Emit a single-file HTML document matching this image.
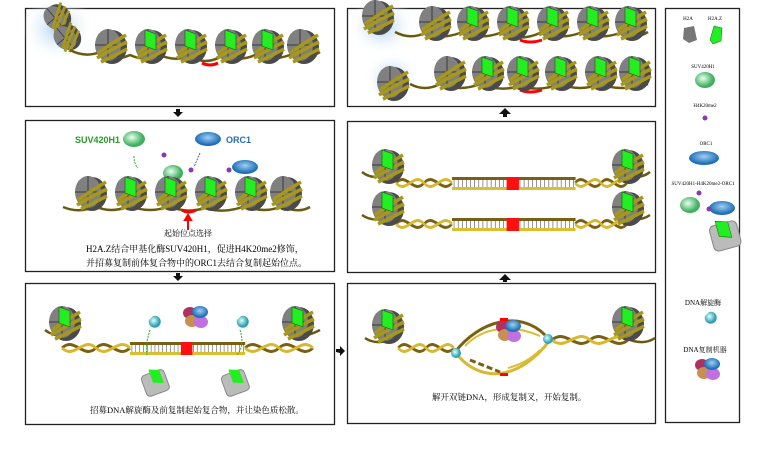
<!DOCTYPE html>
<html><head><meta charset="utf-8"><style>
html,body{margin:0;padding:0;background:#fff;}
svg{display:block;font-family:"Liberation Serif","Noto Serif CJK SC",serif;}
</style></head><body>
<svg width="779" height="470" viewBox="0 0 779 470" xmlns="http://www.w3.org/2000/svg">
<defs>
<radialGradient id="gG" cx="40%" cy="40%"><stop offset="0" stop-color="#eafff0"/><stop offset="1" stop-color="#3fb060"/></radialGradient>
<radialGradient id="gB" cx="50%" cy="40%"><stop offset="0" stop-color="#9fd0f0"/><stop offset="1" stop-color="#1e6fb8"/></radialGradient>
<radialGradient id="gC" cx="40%" cy="40%"><stop offset="0" stop-color="#e0ffff"/><stop offset="1" stop-color="#2aa0b0"/></radialGradient>
<radialGradient id="gHalo" cx="50%" cy="50%"><stop offset="0" stop-color="#a8cfee"/><stop offset="1" stop-color="#ffffff" stop-opacity="0"/></radialGradient>
<g id="nuc">
  <ellipse cx="4" cy="2" rx="15" ry="17" fill="#4a4a4a"/>
  <ellipse cx="0" cy="0" rx="13" ry="16" fill="#808080"/>
  <path d="M-13,0 L13,0 M0,-16 L0,16" stroke="#3a3a3a" stroke-width="1"/>
  <path d="M-10,8 Q4,-2 18,-10 M-11,13 Q4,4 19,-3 M-7,17 Q6,11 19,4" stroke="#a89818" stroke-width="3.5" fill="none"/>
</g>
<g id="nucz">
  <use href="#nuc"/>
  <path d="M-3,-15 L8,-11 L8,5 L-3,1 Z" fill="#22ee22" stroke="#106010" stroke-width="0.6"/>
</g>
<g id="rep">
  <ellipse cx="-5" cy="-3" rx="7" ry="6" fill="#b03060"/>
  <ellipse cx="-3" cy="5" rx="7" ry="6" fill="#c89050"/>
  <ellipse cx="6" cy="6" rx="7" ry="6" fill="#c070e0"/>
  <ellipse cx="5" cy="-4" rx="8" ry="6" fill="url(#gB)"/>
</g>
<g id="helix">
  <path d="M0,0 C15,-12 25,12 40,0 C55,-12 65,12 80,0" stroke="#7a6010" stroke-width="3" fill="none"/>
  <path d="M0,0 C15,12 25,-12 40,0 C55,12 65,-12 80,0" stroke="#d8b830" stroke-width="3" fill="none"/>
</g>
<g id="ladder">
  <rect x="0" y="-6" width="120" height="3" fill="#7a6010"/>
  <rect x="0" y="4" width="120" height="3" fill="#d8c030"/>
  <path d="M2,-4 V4 M6,-4 V4 M10,-4 V4 M14,-4 V4 M18,-4 V4 M22,-4 V4 M26,-4 V4 M30,-4 V4 M34,-4 V4 M38,-4 V4 M42,-4 V4 M46,-4 V4 M50,-4 V4 M66,-4 V4 M70,-4 V4 M74,-4 V4 M78,-4 V4 M82,-4 V4 M86,-4 V4 M90,-4 V4 M94,-4 V4 M98,-4 V4 M102,-4 V4 M106,-4 V4 M110,-4 V4 M114,-4 V4 M118,-4 V4" stroke="#555" stroke-width="0.6"/>
  <rect x="53" y="-6" width="12" height="13" fill="#ff1010"/>
</g>
</defs>
<g fill="none" stroke="#222" stroke-width="1.3">
<rect x="25.5" y="8.5" width="309" height="98"/>
<rect x="25.5" y="120.5" width="309" height="151"/>
<rect x="25.5" y="283.5" width="309" height="141"/>
<rect x="347.5" y="8.5" width="308" height="98"/>
<rect x="347.5" y="121.5" width="308" height="151"/>
<rect x="347.5" y="283.5" width="308" height="140"/>
<rect x="665.5" y="8.5" width="74" height="414"/>
</g>
<g fill="#111">
<path d="M176,109 h4 v3 h3 l-5,5 l-5,-5 h3z"/>
<path d="M176,273 h4 v3 h3 l-5,5 l-5,-5 h3z"/>
<path d="M499,114 l6,-6 l6,6z M503,114 h4 v3 h-4z"/>
<path d="M499,280 l6,-6 l6,6z M503,280 h4 v2 h-4z"/>
<path d="M336,352 v-3 h4 v-3 l5,5 l-5,5 v-3z"/>
</g>
<!-- Panel 1 -->
<ellipse cx="58" cy="28" rx="36" ry="34" fill="url(#gHalo)"/>
<g transform="translate(55,18) rotate(-40)"><use href="#nuc" transform="scale(0.8)"/></g>
<g transform="translate(65,38) rotate(-40)"><use href="#nuc" transform="scale(0.8)"/></g>
<path d="M70,50 Q85,58 100,52 Q115,62 130,55 Q145,62 160,55 Q175,62 190,56 Q205,66 222,56 Q240,62 255,55 Q270,62 290,55 Q305,62 320,52" stroke="#6a5a10" stroke-width="2.5" fill="none"/>
<path d="M202,63 Q210,67 218,63" stroke="#f00" stroke-width="3" fill="none"/>
<use href="#nuc" x="108" y="45"/><use href="#nucz" x="148" y="45"/><use href="#nucz" x="188" y="45"/><use href="#nucz" x="228" y="45"/><use href="#nucz" x="265" y="45"/><use href="#nuc" x="300" y="45"/>
<!-- Panel 2 -->
<text x="75" y="143" font-family="Liberation Sans,sans-serif" font-weight="bold" font-size="9" fill="#2a9a2a">SUV420H1</text>
<ellipse cx="134" cy="139" rx="11" ry="8" fill="url(#gG)"/>
<ellipse cx="208" cy="139" rx="13" ry="7" fill="url(#gB)"/>
<text x="226" y="143" font-family="Liberation Sans,sans-serif" font-weight="bold" font-size="9" fill="#2a6ab0">ORC1</text>
<path d="M134,156 q0,8 4,12" stroke="#3a3" stroke-width="1" fill="none" stroke-dasharray="2,1"/>
<path d="M200,153 l-6,14" stroke="#36a" stroke-width="1" fill="none" stroke-dasharray="2,1"/>
<ellipse cx="173" cy="173" rx="10" ry="8" fill="url(#gG)"/>
<ellipse cx="245" cy="167" rx="13" ry="7" fill="url(#gB)"/>
<circle cx="164" cy="155" r="2.5" fill="#8a3ab0"/><circle cx="191" cy="170" r="2.5" fill="#8a3ab0"/><circle cx="229" cy="170" r="2.5" fill="#8a3ab0"/>
<path d="M63,207 Q80,214 95,206 Q110,214 130,206 Q150,214 170,206 Q185,214 205,208 Q225,214 245,206 Q265,214 282,206 Q298,214 310,207" stroke="#6a5a10" stroke-width="2.5" fill="none"/>
<path d="M182,210 Q188,214 196,210" stroke="#f00" stroke-width="3" fill="none"/>
<use href="#nuc" x="88" y="192"/><use href="#nucz" x="128" y="192"/><use href="#nucz" x="168" y="192"/><use href="#nucz" x="208" y="192"/><use href="#nucz" x="248" y="192"/><use href="#nuc" x="283" y="192"/>
<path d="M188,230 v-10 h-3 l3,-5 l3,5 h-3" stroke="#f00" stroke-width="2" fill="#f00"/>
<text x="188" y="236" text-anchor="middle" font-size="8">起始位点选择</text>
<text x="86" y="252" font-size="9">H2A.Z结合甲基化酶SUV420H1，促进H4K20me2修饰，</text>
<text x="86" y="266" font-size="9">并招募复制前体复合物中的ORC1去结合复制起始位点。</text>
<!-- Panel 3 -->
<path d="M45,330 Q55,338 70,335" stroke="#6a5a10" stroke-width="2.5" fill="none"/>
<path d="M295,335 Q305,338 320,330" stroke="#6a5a10" stroke-width="2.5" fill="none"/>
<g transform="translate(62,348) scale(0.85,1)"><use href="#helix"/></g>
<g transform="translate(245,348) scale(0.85,1)"><use href="#helix"/></g>
<g transform="translate(130,348) scale(0.96,1)"><use href="#ladder"/></g>
<use href="#nucz" x="62" y="322"/><use href="#nucz" x="295" y="322"/>
<use href="#rep" x="195" y="316"/>
<path d="M149,320 a6,6 0 1,0 4,-4" fill="url(#gC)"/><path d="M237,320 a6,6 0 1,0 4,-4" fill="url(#gC)"/>
<g transform="translate(155,382) rotate(-20)"><rect x="-12" y="-10" width="24" height="22" rx="4" fill="#bbb" stroke="#888"/><path d="M-2,-14 L8,-10 L8,4 L-2,0 Z" fill="#22ee22"/></g>
<g transform="translate(235,382) rotate(-20)"><rect x="-12" y="-10" width="24" height="22" rx="4" fill="#bbb" stroke="#888"/><path d="M-2,-14 L8,-10 L8,4 L-2,0 Z" fill="#22ee22"/></g>
<path d="M150,330 q-5,15 -3,25" stroke="#3a3" fill="none" stroke-dasharray="2,1"/>
<path d="M240,330 q5,15 -3,25" stroke="#3a3" fill="none" stroke-dasharray="2,1"/>
<text x="90" y="413" font-size="8.5">招募DNA解旋酶及前复制起始复合物，并让染色质松散。</text>
<!-- Right top -->
<ellipse cx="382" cy="26" rx="34" ry="30" fill="url(#gHalo)"/>
<ellipse cx="392" cy="78" rx="28" ry="27" fill="url(#gHalo)"/>
<use href="#nuc" x="375" y="16"/><use href="#nuc" x="390" y="82"/>
<path d="M395,32 Q410,40 425,33 Q440,40 460,33 Q480,40 500,33 Q520,42 540,33 Q560,40 580,33 Q600,40 620,33 Q635,40 648,32" stroke="#6a5a10" stroke-width="2.5" fill="none"/>
<path d="M410,84 Q425,92 440,84 Q460,92 480,84 Q500,92 520,86 Q540,92 560,84 Q580,92 600,84 Q620,92 648,84" stroke="#6a5a10" stroke-width="2.5" fill="none"/>
<path d="M520,40 Q530,44 542,40" stroke="#f00" stroke-width="3" fill="none"/>
<path d="M520,90 Q530,94 542,90" stroke="#f00" stroke-width="3" fill="none"/>
<use href="#nuc" x="432" y="22"/><use href="#nucz" x="470" y="22"/><use href="#nucz" x="510" y="22"/><use href="#nucz" x="550" y="22"/><use href="#nucz" x="590" y="22"/><use href="#nucz" x="628" y="22"/>
<use href="#nuc" x="447" y="72"/><use href="#nucz" x="485" y="72"/><use href="#nucz" x="520" y="72"/><use href="#nucz" x="558" y="72"/><use href="#nucz" x="598" y="72"/><use href="#nucz" x="632" y="72"/>
<!-- Right middle -->
<path d="M362,172 Q372,180 385,175" stroke="#6a5a10" stroke-width="2.5" fill="none"/>
<path d="M362,215 Q372,222 385,218" stroke="#6a5a10" stroke-width="2.5" fill="none"/>
<path d="M625,175 Q640,180 650,172" stroke="#6a5a10" stroke-width="2.5" fill="none"/>
<path d="M625,218 Q640,222 650,215" stroke="#6a5a10" stroke-width="2.5" fill="none"/>
<g transform="translate(396,183) scale(0.7,1)"><use href="#helix"/></g>
<g transform="translate(396,224) scale(0.7,1)"><use href="#helix"/></g>
<g transform="translate(575,183) scale(0.65,1)"><use href="#helix"/></g>
<g transform="translate(575,224) scale(0.65,1)"><use href="#helix"/></g>
<g transform="translate(452,183) scale(1.03,1)"><use href="#ladder"/></g>
<g transform="translate(452,224) scale(1.03,1)"><use href="#ladder"/></g>
<use href="#nucz" x="385" y="165"/><use href="#nucz" x="625" y="165"/>
<use href="#nucz" x="385" y="207"/><use href="#nucz" x="625" y="207"/>
<!-- Right bottom -->
<path d="M365,338 Q375,345 390,340" stroke="#6a5a10" stroke-width="2.5" fill="none"/>
<path d="M630,340 Q645,345 655,338" stroke="#6a5a10" stroke-width="2.5" fill="none"/>
<g transform="translate(398,348) scale(0.7,1)"><use href="#helix"/></g>
<path d="M455,352 C480,320 520,310 545,335" stroke="#7a6010" stroke-width="3" fill="none"/>
<path d="M455,352 C480,385 520,380 550,340" stroke="#d8b830" stroke-width="3" fill="none"/>
<path d="M465,346 C485,325 515,325 540,336" stroke="#d8c030" stroke-width="2" fill="none"/>
<path d="M470,360 L500,372" stroke="#7a6010" stroke-width="3" fill="none" stroke-dasharray="6,3"/>
<path d="M508,368 C520,365 530,360 540,350" stroke="#d8c030" stroke-width="2" fill="none"/>
<g transform="translate(552,340) scale(0.95,1)"><use href="#helix"/></g>
<rect x="500" y="318" width="8" height="3" fill="#f00"/><rect x="500" y="373" width="8" height="3" fill="#f00"/>
<use href="#rep" x="508" y="330"/>
<circle cx="456" cy="353" r="5" fill="url(#gC)"/><circle cx="548" cy="339" r="5" fill="url(#gC)"/>
<use href="#nucz" x="385" y="325"/><use href="#nucz" x="625" y="322"/>
<text x="432" y="400" font-size="8.5">解开双链DNA，形成复制叉，开始复制。</text>
<!-- Legend -->
<g font-size="5">
<text x="688" y="20" text-anchor="middle">H2A</text><text x="715" y="20" text-anchor="middle">H2A.Z</text>
<text x="703" y="68" text-anchor="middle">SUV420H1</text>
<text x="705" y="107" text-anchor="middle">H4K20me2</text>
<text x="706" y="145" text-anchor="middle">ORC1</text>
<text x="703" y="185" text-anchor="middle">SUV420H1-H4K20me2-ORC1</text>
</g>
<path d="M684,28 l10,-2 l3,14 l-8,3 l-6,-4z" fill="#777"/>
<path d="M714,26 l8,2 l-1,13 l-8,3 l-3,-4z" fill="#22ee22" stroke="#106010" stroke-width="0.5"/>
<ellipse cx="705" cy="80" rx="10" ry="8" fill="url(#gG)"/>
<circle cx="705" cy="118" r="2.5" fill="#8a3ab0"/>
<ellipse cx="704" cy="158" rx="15" ry="7" fill="url(#gB)"/>
<circle cx="699" cy="193" r="2.5" fill="#8a3ab0"/>
<ellipse cx="690" cy="205" rx="10" ry="8" fill="url(#gG)"/>
<ellipse cx="722" cy="208" rx="13" ry="7" fill="url(#gB)"/>
<circle cx="709" cy="209" r="2.5" fill="#8a3ab0"/>
<g transform="translate(725,235) rotate(-15)"><rect x="-14" y="-12" width="28" height="26" rx="5" fill="#bbb" stroke="#888"/><path d="M-6,-16 L6,-12 L6,4 L-6,0 Z" fill="#22ee22" stroke="#106010" stroke-width="0.5"/></g>
<text x="703" y="305" text-anchor="middle" font-size="7">DNA解旋酶</text>
<path d="M705,316 a6,6 0 1,0 4,-4" fill="url(#gC)"/>
<text x="705" y="352" text-anchor="middle" font-size="7">DNA复制机器</text>
<use href="#rep" x="707" y="368"/>
</svg>
</body></html>
